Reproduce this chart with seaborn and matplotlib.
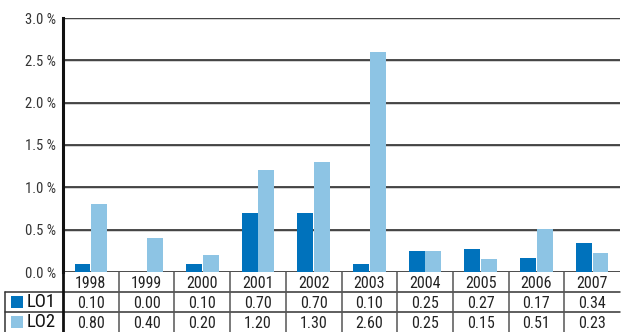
import matplotlib
matplotlib.use("Agg")
import matplotlib.pyplot as plt
import matplotlib.patheffects as pe
from matplotlib import font_manager
import pandas as pd
import seaborn as sns

years = ["1998", "1999", "2000", "2001", "2002", "2003", "2004", "2005", "2006", "2007"]
lo1 = [0.10, 0.00, 0.10, 0.70, 0.70, 0.10, 0.25, 0.27, 0.17, 0.34]
lo2 = [0.80, 0.40, 0.20, 1.20, 1.30, 2.60, 0.25, 0.15, 0.51, 0.23]
series_names = ["LO1", "LO2"]
colors = ["#0072BC", "#8DC4E4"]
yticks = [0.0, 0.5, 1.0, 1.5, 2.0, 2.5, 3.0]

sns.set_theme(style="white")
installed = {f.name for f in font_manager.fontManager.ttflist}
preferred = ["Roboto Condensed", "Archivo Narrow", "Liberation Sans Narrow",
             "PT Sans Narrow", "Fira Sans Condensed", "IBM Plex Sans Condensed",
             "Barlow Semi Condensed", "DejaVu Sans"]
family = next(f for f in preferred if f in installed or f == "DejaVu Sans")
plt.rcParams["font.family"] = [family, "DejaVu Sans"]

W, H = 622, 332
fig = plt.figure(figsize=(W / 100, H / 100), dpi=100)

left_px, right_px, top_px, bottom_px = 63, 620, 18, 272
ax = fig.add_axes([left_px / W, 1 - bottom_px / H,
                   (right_px - left_px) / W, (bottom_px - top_px) / H])

df = pd.DataFrame({
    "year": years * 2,
    "value": lo1 + lo2,
    "series": [series_names[0]] * len(years) + [series_names[1]] * len(years),
})
sns.barplot(data=df, x="year", y="value", hue="series", palette=colors,
            width=0.6, gap=0.05, ax=ax, legend=False, zorder=3,
            saturation=1, linewidth=0, errorbar=None)

ax.set_xlim(-0.5, len(years) - 0.5)
ax.set_ylim(0, 3.0)
ax.set_yticks(yticks)
ax.set_yticklabels([f"{v:.1f} %" for v in yticks], fontsize=10.5, color="#333333")
ax.tick_params(axis="y", length=0, pad=5)
ax.set_xticks([])
ax.set_xlabel("")
ax.set_ylabel("")
for s in ["top", "right", "bottom"]:
    ax.spines[s].set_visible(False)
ax.spines["left"].set_color("#111111")
ax.spines["left"].set_linewidth(2.2)
ax.spines["left"].set_zorder(5)

shadow = [pe.SimpleLineShadow(offset=(0, -0.8), shadow_color="#c8c8c8", alpha=1), pe.Normal()]
for v in yticks:
    ax.axhline(v, color="#1a1a1a", lw=1.1, zorder=1, path_effects=shadow)

# data table below the plot
tax = fig.add_axes([left_px / W, 0, (right_px - left_px) / W, (H - bottom_px) / H])
tax.set_xlim(-0.5, len(years) - 0.5)
tax.set_ylim(0, 3)
tax.axis("off")
col_w = (right_px - left_px) / len(years)
label_left = -0.5 - (left_px - 5) / col_w

line_kw = dict(color="#333333", lw=1.1, clip_on=False)
tax.plot([label_left, len(years) - 0.5], [2, 2], **line_kw)
tax.plot([label_left, len(years) - 0.5], [1, 1], **line_kw)
tax.plot([label_left, label_left], [0, 2], **line_kw)
tax.plot([-0.5, -0.5], [0, 3], color="#111111", lw=2.0, clip_on=False)
for i in range(1, len(years)):
    tax.plot([i - 0.5, i - 0.5], [0, 3], color="#555555", lw=1.1, clip_on=False)

for i, y in enumerate(years):
    tax.text(i, 2.45, y, ha="center", va="center", fontsize=11.5, color="#222222")
    tax.text(i, 1.45, f"{lo1[i]:.2f}", ha="center", va="center", fontsize=11.5, color="#222222")
    tax.text(i, 0.45, f"{lo2[i]:.2f}", ha="center", va="center", fontsize=11.5, color="#222222")

sq = 12 / col_w
for row, (name, c) in enumerate(zip(series_names, colors)):
    yc = 1.5 - row
    tax.add_patch(plt.Rectangle((label_left + 6 / col_w, yc - 0.3), sq, 0.6,
                                color=c, clip_on=False, lw=0))
    tax.text(label_left + 22 / col_w, yc - 0.02, name, ha="left", va="center",
             fontsize=13.5, color="#111111")

fig.savefig("out.png", dpi=100)
